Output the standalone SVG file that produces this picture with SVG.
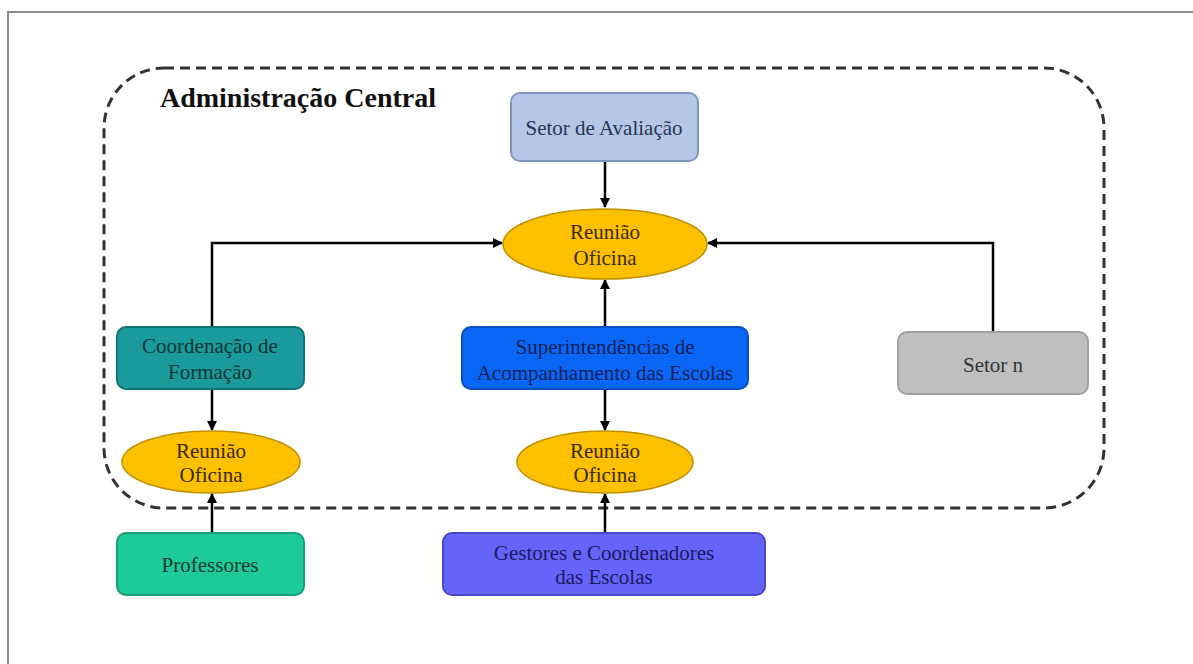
<svg xmlns="http://www.w3.org/2000/svg" width="1193" height="664" viewBox="0 0 1193 664">
<style>
  text { font-family: "Liberation Serif", "Times New Roman", serif; text-anchor: middle; dominant-baseline: central; }
  .lbl { font-size: 21px; }
  .box { stroke-width: 2; }
  .ell { fill: #ffc000; stroke: #bf9000; stroke-width: 1.5; }
  .conn { fill: none; stroke: #000; stroke-width: 2.5; }
</style>
<defs>
  <marker id="ah" viewBox="0 0 10 10" refX="9" refY="5" markerWidth="4" markerHeight="4" orient="auto" markerUnits="strokeWidth">
    <path d="M0,0 L10,5 L0,10 z" fill="#000"/>
  </marker>
</defs>
<rect x="0" y="0" width="1193" height="664" fill="#ffffff"/>
<rect id="frame" x="8" y="12" width="1200" height="700" fill="none" stroke="#8a8a8a" stroke-width="2"/>

<g id="admin-central">
  <rect x="104" y="68" width="1000" height="440" rx="60" ry="60" fill="none" stroke="#333" stroke-width="3" stroke-dasharray="10 6"/>
  <text x="298" y="97" style="font-size:28px;font-weight:bold;fill:#111">Administração Central</text>
</g>

<g id="connectors">
  <path class="conn" d="M605,161 L605,207" marker-end="url(#ah)"/>
  <path class="conn" d="M212,327 L212,243 L502,243" marker-end="url(#ah)"/>
  <path class="conn" d="M993,332 L993,243 L708,243" marker-end="url(#ah)"/>
  <path class="conn" d="M605,327 L605,280" marker-end="url(#ah)"/>
  <path class="conn" d="M605,389 L605,430" marker-end="url(#ah)"/>
  <path class="conn" d="M605,533 L605,494" marker-end="url(#ah)"/>
  <path class="conn" d="M212,389 L212,430" marker-end="url(#ah)"/>
  <path class="conn" d="M212,533 L212,494" marker-end="url(#ah)"/>
</g>

<g id="setor-avaliacao">
  <rect class="box" x="511" y="93" width="187" height="68" rx="9" fill="#b4c7e7" stroke="#7f95bf"/>
  <text class="lbl" x="604" y="128" fill="#2a3550">Setor de Avaliação</text>
</g>

<g id="reuniao-central">
  <ellipse class="ell" cx="605" cy="244" rx="102" ry="35"/>
  <text class="lbl" x="605" y="232" fill="#3a2a00">Reunião</text>
  <text class="lbl" x="605" y="258" fill="#3a2a00">Oficina</text>
</g>

<g id="coordenacao-formacao">
  <rect class="box" x="117" y="327" width="187" height="62" rx="9" fill="#1a9a9a" stroke="#127575"/>
  <text class="lbl" x="210" y="346" fill="#0a3535">Coordenação de</text>
  <text class="lbl" x="210" y="372" fill="#0a3535">Formação</text>
</g>

<g id="superintendencias">
  <rect class="box" x="462" y="327" width="286" height="62" rx="9" fill="#0a66f5" stroke="#0a4fc0"/>
  <text class="lbl" x="605" y="347" fill="#0a1f5a">Superintendências de</text>
  <text class="lbl" x="605" y="373" fill="#0a1f5a">Acompanhamento das Escolas</text>
</g>

<g id="setor-n">
  <rect class="box" x="898" y="332" width="190" height="62" rx="9" fill="#bfbfbf" stroke="#a0a0a0"/>
  <text class="lbl" x="993" y="365" fill="#333333">Setor n</text>
</g>

<g id="reuniao-formacao">
  <ellipse class="ell" cx="211" cy="462" rx="89" ry="31"/>
  <text class="lbl" x="211" y="451" fill="#3a2a00">Reunião</text>
  <text class="lbl" x="211" y="475" fill="#3a2a00">Oficina</text>
</g>

<g id="reuniao-escolas">
  <ellipse class="ell" cx="605" cy="462" rx="88" ry="31"/>
  <text class="lbl" x="605" y="451" fill="#3a2a00">Reunião</text>
  <text class="lbl" x="605" y="475" fill="#3a2a00">Oficina</text>
</g>

<g id="professores">
  <rect class="box" x="117" y="533" width="187" height="62" rx="9" fill="#1ec99a" stroke="#16a07a"/>
  <text class="lbl" x="210" y="565" fill="#0a3a2a">Professores</text>
</g>

<g id="gestores">
  <rect class="box" x="443" y="533" width="322" height="62" rx="9" fill="#6464fa" stroke="#4646c8"/>
  <text class="lbl" x="604" y="553" fill="#1a1a60">Gestores e Coordenadores</text>
  <text class="lbl" x="604" y="577" fill="#1a1a60">das Escolas</text>
</g>
</svg>
